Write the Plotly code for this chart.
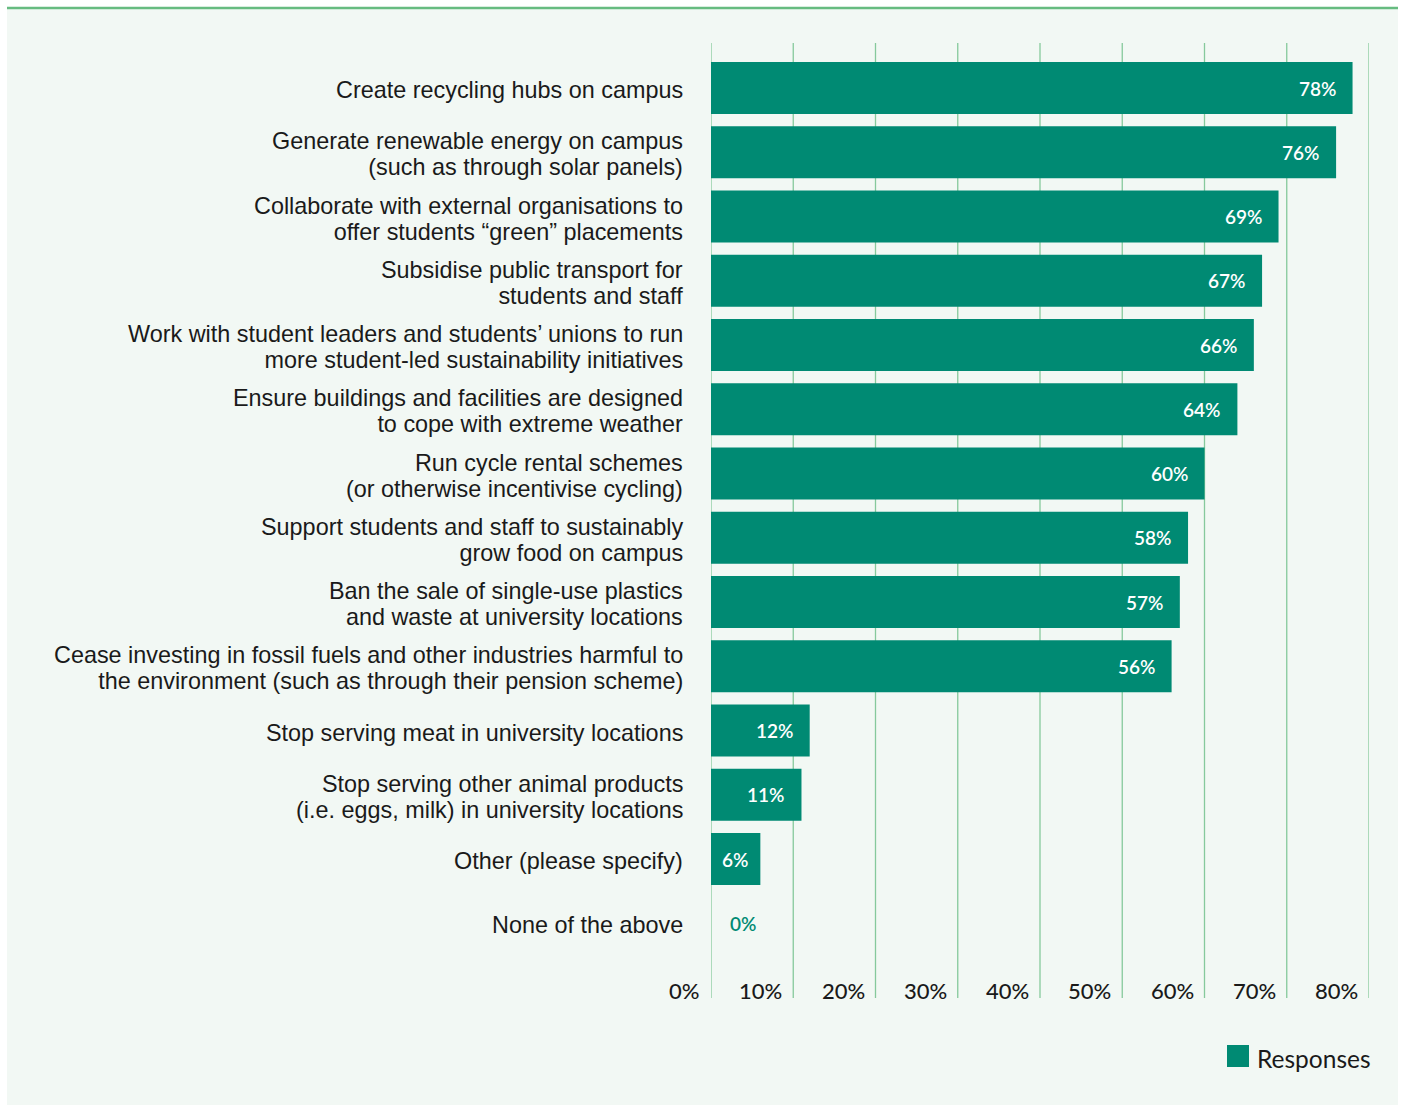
import plotly.graph_objects as go

# Survey options and share of responses (%)
categories = [
    "Create recycling hubs on campus",
    "Generate renewable energy on campus<br>(such as through solar panels)",
    "Collaborate with external organisations to<br>offer students “green” placements",
    "Subsidise public transport for<br>students and staff",
    "Work with student leaders and students’ unions to run<br>more student-led sustainability initiatives",
    "Ensure buildings and facilities are designed<br>to cope with extreme weather",
    "Run cycle rental schemes<br>(or otherwise incentivise cycling)",
    "Support students and staff to sustainably<br>grow food on campus",
    "Ban the sale of single-use plastics<br>and waste at university locations",
    "Cease investing in fossil fuels and other industries harmful to<br>the environment (such as through their pension scheme)",
    "Stop serving meat in university locations",
    "Stop serving other animal products<br>(i.e. eggs, milk) in university locations",
    "Other (please specify)",
    "None of the above",
]
values = [78, 76, 69, 67, 66, 64, 60, 58, 57, 56, 12, 11, 6, 0]
x_ticks = [0, 10, 20, 30, 40, 50, 60, 70, 80]
series_name = "Responses"

W, H = 1402, 1106
L, R, T, B = 711, 33, 43, 108
PW, PH = W - L - R, H - T - B

BAR = "#008A73"
GRID = "#86C99C"
PANEL = "#F2F8F4"
TOPLINE = "#66BB80"
TEXT = "#1a1a1a"
FONT = "Lato"
LABEL_FONT = "Liberation Sans"
LABEL_SIZE = 23.4
LINE_GAP = 26.2  # px between label lines; base size sets the line spacing


def px_x(p):
    return (p - L) / PW


def px_y(p):
    return (H - B - p) / PH


fig = go.Figure(
    go.Bar(
        x=values,
        y=categories,
        orientation="h",
        marker=dict(color=BAR, line=dict(width=0)),
        name=series_name,
        showlegend=False,
        hoverinfo="x",
    )
)

shapes = [
    # light panel behind the chart
    dict(type="rect", xref="paper", yref="paper",
         x0=px_x(7), x1=px_x(1398), y0=px_y(1105), y1=px_y(8),
         fillcolor=PANEL, line=dict(width=0), layer="below"),
    # accent rule along the top
    dict(type="line", xref="paper", yref="paper",
         x0=px_x(7), x1=px_x(1398), y0=px_y(8), y1=px_y(8),
         line=dict(color=TOPLINE, width=2.5)),
    # legend swatch
    dict(type="rect", xref="paper", yref="paper",
         x0=px_x(1227), x1=px_x(1249), y0=px_y(1067), y1=px_y(1045),
         fillcolor=BAR, line=dict(width=0)),
]
# vertical gridlines
for t in x_ticks:
    shapes.append(dict(type="line", xref="x", yref="paper", x0=t, x1=t,
                       y0=0, y1=1, line=dict(color=GRID, width=1.3),
                       layer="below"))

annotations = []
# category labels: the base font size fixes the line pitch, the span
# sets the glyph size
for cat in categories:
    lines = cat.split("<br>")
    text = "<br>".join(
        f'<span style="font-size:{LABEL_SIZE}px">{ln}</span>' for ln in lines
    )
    annotations.append(dict(x=0, y=cat, xref="paper", yref="y",
                            text=text, showarrow=False, align="right",
                            xanchor="right", yanchor="middle",
                            xshift=-26, yshift=-2,
                            font=dict(family=LABEL_FONT, size=LINE_GAP / 1.3,
                                      color=TEXT)))
# value labels
for cat, v in zip(categories, values):
    if v == 0:
        annotations.append(dict(x=v, y=cat, xref="x", yref="y",
                                text=f"{v}%", showarrow=False,
                                xanchor="left", xshift=17,
                                font=dict(family=FONT, size=19, color=BAR,
                                          weight=600)))
    else:
        annotations.append(dict(x=v, y=cat, xref="x", yref="y",
                                text=f"{v}%", showarrow=False,
                                xanchor="right", xshift=-15 if v >= 10 else -10,
                                font=dict(family=FONT, size=19, color="white",
                                          weight=600)))
# x tick labels, sitting to the left of each gridline
for t in x_ticks:
    annotations.append(dict(x=t, y=0, xref="x", yref="paper",
                            text=f"{t}%", showarrow=False,
                            xanchor="right", yanchor="bottom",
                            xshift=-9, yshift=-8,
                            font=dict(family=FONT, size=22, color=TEXT,
                                      weight=500)))
# legend text
annotations.append(dict(x=px_x(1255), y=px_y(1058), xref="paper", yref="paper",
                        text=series_name, showarrow=False,
                        xanchor="left", yanchor="middle",
                        font=dict(family=FONT, size=24.5, color=TEXT)))

# category index range: first row centre at y=88px, rows 64.25px apart
row = 64.25
y_top = (T - 88) / row
y_bot = (H - B - 88) / row

fig.update_layout(
    width=W, height=H,
    margin=dict(l=L, r=R, t=T, b=B, pad=0),
    paper_bgcolor="white",
    plot_bgcolor="rgba(0,0,0,0)",
    bargap=0.19,
    font=dict(family=FONT, size=22, color=TEXT),
    xaxis=dict(range=[0, 80], showgrid=False, zeroline=False,
               showticklabels=False, showline=False, fixedrange=True),
    yaxis=dict(type="category", categoryorder="array",
               categoryarray=categories, range=[y_bot, y_top],
               showgrid=False, zeroline=False, showline=False,
               ticks="", showticklabels=False, fixedrange=True),
    shapes=shapes,
    annotations=annotations,
)

fig.write_html("out.html")
